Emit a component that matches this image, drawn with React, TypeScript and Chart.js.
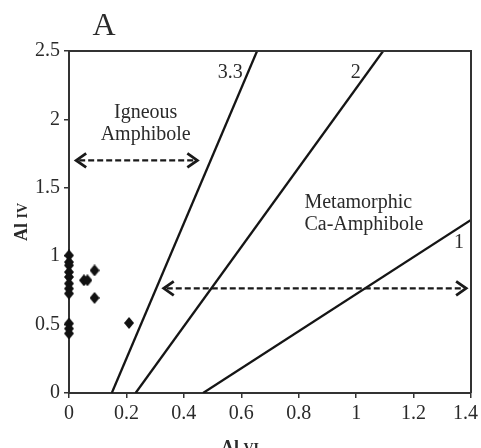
import React, { useEffect, useRef } from "react";
import { Chart, registerables } from "chart.js";

Chart.register(...registerables);

// Amphibole analyses: octahedral (Al VI) vs tetrahedral (Al IV) aluminium
const alVI = [0, 0, 0, 0, 0, 0, 0, 0, 0, 0, 0, 0.052, 0.064, 0.089, 0.089, 0.209];
const alIV = [1.006, 0.957, 0.933, 0.884, 0.848, 0.8, 0.763, 0.727, 0.508, 0.471, 0.435, 0.824, 0.824, 0.896, 0.695, 0.512];

// Al IV / Al VI boundary lines: start on Al IV = 0, end point on the frame
const boundaryNames = ["3.3", "2", "1"];
const boundaryStartX = [0.149, 0.232, 0.467];
const boundaryEndX = [0.655, 1.094, 1.4];
const boundaryEndY = [2.5, 2.5, 1.265];

// Axis ranges and tick labels
const xTickValues = [0, 0.2, 0.4, 0.6, 0.8, 1, 1.2, 1.4];
const xTickLabels = ["0", "0.2", "0.4", "0.6", "0.8", "1", "1.2", "1.4"];
const yTickValues = [0, 0.5, 1, 1.5, 2, 2.5];
const yTickLabels = ["0", "0.5", "1", "1.5", "2", "2.5"];

// Field ranges shown with double arrows (Al VI from, Al VI to, Al IV)
const igneousRange = [0.025, 0.447, 1.7];
const metamorphicRange = [0.33, 1.383, 0.765];

const SERIF = '"Liberation Serif", "Times New Roman", serif';
const INK = "#2a2a2a";

function makeDiamond(): HTMLCanvasElement {
  const c = document.createElement("canvas");
  c.width = 10;
  c.height = 12;
  const g = c.getContext("2d")!;
  g.fillStyle = "#111";
  g.beginPath();
  g.moveTo(5, 0);
  g.lineTo(10, 6);
  g.lineTo(5, 12);
  g.lineTo(0, 6);
  g.closePath();
  g.fill();
  return c;
}

function drawDoubleArrow(ctx: CanvasRenderingContext2D, x1: number, x2: number, y: number) {
  ctx.save();
  ctx.strokeStyle = "#1a1a1a";
  ctx.lineWidth = 2.2;
  ctx.setLineDash([6, 3]);
  ctx.beginPath();
  ctx.moveTo(x1 + 3, y);
  ctx.lineTo(x2 - 3, y);
  ctx.stroke();
  ctx.setLineDash([]);
  ctx.lineWidth = 2.8;
  ctx.lineJoin = "miter";
  ctx.beginPath();
  ctx.moveTo(x1 + 10, y - 7);
  ctx.lineTo(x1, y);
  ctx.lineTo(x1 + 10, y + 7);
  ctx.moveTo(x2 - 10, y - 7);
  ctx.lineTo(x2, y);
  ctx.lineTo(x2 - 10, y + 7);
  ctx.stroke();
  ctx.restore();
}

function drawSplitLabel(ctx: CanvasRenderingContext2D, big: string, small: string, cx: number, baseline: number) {
  const bigFont = `bold 18px ${SERIF}`;
  const smallFont = `bold 14px ${SERIF}`;
  ctx.font = bigFont;
  const w1 = ctx.measureText(big + " ").width;
  ctx.font = smallFont;
  const w2 = ctx.measureText(small).width;
  const start = cx - (w1 + w2) / 2;
  ctx.textAlign = "left";
  ctx.textBaseline = "alphabetic";
  ctx.font = bigFont;
  ctx.fillText(big, start, baseline);
  ctx.font = smallFont;
  ctx.fillText(small, start + w1, baseline);
}

const decorations = {
  id: "decorations",
  afterDraw(chart: Chart) {
    const ctx = chart.ctx;
    const { left, right, top, bottom } = chart.chartArea;
    const xs = chart.scales.x;
    const ys = chart.scales.y;
    const px = (v: number) => xs.getPixelForValue(v);
    const py = (v: number) => ys.getPixelForValue(v);

    ctx.save();
    // top and right edges of the frame
    ctx.strokeStyle = "#333";
    ctx.lineWidth = 2;
    ctx.beginPath();
    ctx.moveTo(left - 1, top);
    ctx.lineTo(right, top);
    ctx.lineTo(right, bottom);
    ctx.stroke();

    ctx.fillStyle = INK;

    // x tick labels; the last one is kept inside the canvas
    ctx.font = `20px ${SERIF}`;
    ctx.textBaseline = "middle";
    xTickValues.forEach((v, i) => {
      const last = i === xTickValues.length - 1;
      ctx.textAlign = last ? "right" : "center";
      ctx.fillText(xTickLabels[i], last ? chart.width - 3 : px(v), bottom + 21);
    });

    // panel letter
    ctx.font = `32px ${SERIF}`;
    ctx.textAlign = "center";
    ctx.textBaseline = "alphabetic";
    ctx.fillText("A", 104, 35);

    // axis titles
    drawSplitLabel(ctx, "Al", "VI", (left + right) / 2 - 30, 453);
    ctx.save();
    ctx.translate(27, (top + bottom) / 2);
    ctx.rotate(-Math.PI / 2);
    drawSplitLabel(ctx, "Al", "IV", 0, 0);
    ctx.restore();

    // field names
    ctx.font = `20px ${SERIF}`;
    ctx.textAlign = "center";
    ctx.fillText("Igneous", px(0.267), py(2.01));
    ctx.fillText("Amphibole", px(0.267), py(1.85));
    ctx.textAlign = "left";
    ctx.fillText("Metamorphic", px(0.82), py(1.35));
    ctx.fillText("Ca-Amphibole", px(0.82), py(1.19));

    // boundary line ratios
    ctx.textAlign = "right";
    ctx.fillText(boundaryNames[0], px(0.605), py(2.3));
    ctx.textAlign = "center";
    ctx.fillText(boundaryNames[1], px(0.999), py(2.3));
    ctx.fillText(boundaryNames[2], px(1.358), py(1.057));

    drawDoubleArrow(ctx, px(igneousRange[0]), px(igneousRange[1]), py(igneousRange[2]));
    drawDoubleArrow(ctx, px(metamorphicRange[0]), px(metamorphicRange[1]), py(metamorphicRange[2]));
    ctx.restore();
  },
};

export default function App() {
  const ref = useRef<HTMLCanvasElement | null>(null);

  useEffect(() => {
    if (!ref.current) return;
    const diamond = makeDiamond();

    const boundaries = boundaryNames.map((name, i) => ({
      label: name,
      type: "line" as const,
      data: [
        { x: boundaryStartX[i], y: 0 },
        { x: boundaryEndX[i], y: boundaryEndY[i] },
      ],
      borderColor: "#151515",
      borderWidth: 2.3,
      pointRadius: 0,
      fill: false,
      tension: 0,
    }));

    const chart = new Chart(ref.current, {
      type: "scatter",
      data: {
        datasets: [
          ...boundaries,
          {
            label: "Amphibole",
            data: alVI.map((x, i) => ({ x, y: alIV[i] })),
            pointStyle: diamond,
            pointRadius: 6,
            clip: false,
          } as any,
        ],
      },
      options: {
        responsive: false,
        animation: false,
        events: [],
        layout: { padding: { top: 51, right: 10, left: 0, bottom: 0 } },
        plugins: { legend: { display: false }, tooltip: { enabled: false } },
        scales: {
          x: {
            type: "linear",
            min: xTickValues[0],
            max: xTickValues[xTickValues.length - 1],
            afterFit(scale: any) {
              scale.height = 55;
              scale.paddingLeft = 0;
              scale.paddingRight = 0;
            },
            afterBuildTicks(scale: any) {
              scale.ticks = xTickValues.map((value) => ({ value }));
            },
            ticks: { display: false },
            grid: { drawOnChartArea: false, drawTicks: true, tickLength: 5, color: "#333", lineWidth: 1.5 },
            border: { display: true, color: "#333", width: 2 },
          },
          y: {
            type: "linear",
            min: yTickValues[0],
            max: yTickValues[yTickValues.length - 1],
            afterFit(scale: any) {
              scale.width = 69;
              scale.paddingTop = 0;
              scale.paddingBottom = 0;
            },
            afterBuildTicks(scale: any) {
              scale.ticks = yTickValues.map((value) => ({ value }));
            },
            ticks: {
              color: INK,
              padding: 4,
              font: { family: SERIF, size: 20 },
              callback: (_v: any, i: number) => yTickLabels[i],
            },
            grid: { drawOnChartArea: false, drawTicks: true, tickLength: 5, color: "#333", lineWidth: 1.5 },
            border: { display: true, color: "#333", width: 2 },
          },
        },
      },
      plugins: [decorations],
    });

    return () => chart.destroy();
  }, []);

  return (
    <div style={{ position: "absolute", left: 0, top: 0, width: 481, height: 448, background: "#fff" }}>
      <canvas ref={ref} width={481} height={448} style={{ display: "block" }} />
    </div>
  );
}
